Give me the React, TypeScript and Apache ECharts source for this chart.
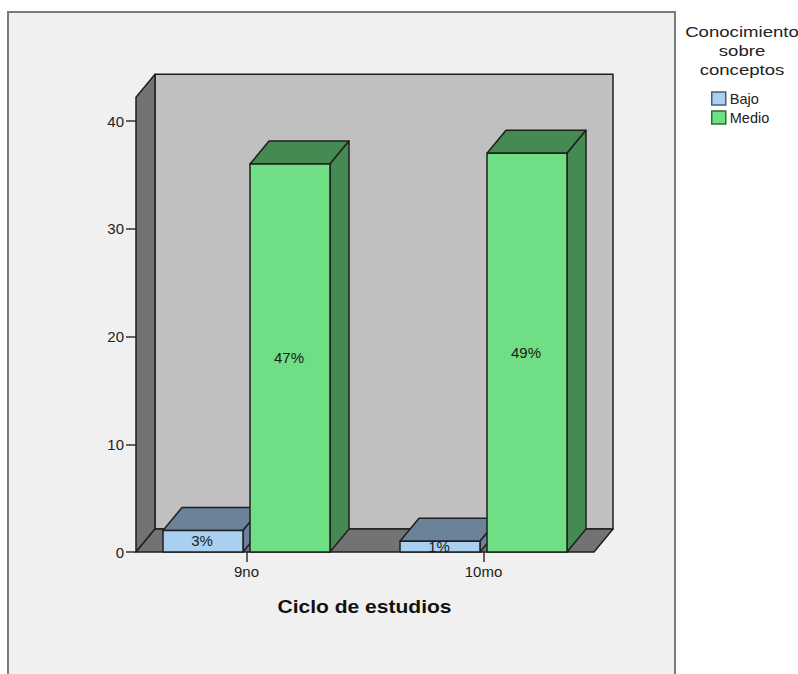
import React, { useEffect, useRef } from "react";
import * as echarts from "echarts";

const categories = ["9no", "10mo"];
const bajoValues = [2, 1];
const medioValues = [36, 37];
const bajoPercents = ["3%", "1%"];
const medioPercents = ["47%", "49%"];
const yTicks = [0, 10, 20, 30, 40];
const legendTitle = "Conocimiento\nsobre\nconceptos";
const xTitle = "Ciclo de estudios";

const FONT = '"Liberation Sans", Arial, sans-serif';
const INK = "#1f1f1f";
const DEPTH_X = 19;
const DEPTH_Y = 23;
const WALL_TOP = 42.2;
const FLOOR_INSET = 8;
const BAR_SHARE = 80 / 237;
const BAR_GAP_SHARE = 7 / 237;

const bajoColors = { front: "#a9d0f0", shade: "#6b8298" };
const medioColors = { front: "#70de84", shade: "#458a52" };

// Back wall, left wall and floor of the 3D box.
function renderWalls(params: any, api: any) {
  if (params.dataIndex !== 0) return null;
  const band = api.size([1, 0])[0];
  const y0 = api.coord([0, 0])[1];
  const yTop = api.coord([0, WALL_TOP])[1];
  const left = api.coord([0, 0])[0] - band / 2 + FLOOR_INSET;
  const right = api.coord([1, 0])[0] + band / 2 - FLOOR_INSET;
  const line = { stroke: INK, lineWidth: 1.5, lineJoin: "round" };
  return {
    type: "group",
    children: [
      {
        type: "polygon",
        shape: { points: [[left + DEPTH_X, yTop - DEPTH_Y], [right + DEPTH_X, yTop - DEPTH_Y], [right + DEPTH_X, y0 - DEPTH_Y], [left + DEPTH_X, y0 - DEPTH_Y]] },
        style: { fill: "#c0c0c0", ...line },
      },
      {
        type: "polygon",
        shape: { points: [[left, y0], [left, yTop], [left + DEPTH_X, yTop - DEPTH_Y], [left + DEPTH_X, y0 - DEPTH_Y]] },
        style: { fill: "#737373", ...line },
      },
      {
        type: "polygon",
        shape: { points: [[left, y0], [left + DEPTH_X, y0 - DEPTH_Y], [right + DEPTH_X, y0 - DEPTH_Y], [right, y0]] },
        style: { fill: "#737373", ...line },
      },
    ],
  };
}

// One cuboid per category: front face, top and side shading, centred label.
function cuboid(colors: { front: string; shade: string }, side: number, labels: string[]) {
  return (params: any, api: any) => {
    const band = api.size([1, 0])[0];
    const w = band * BAR_SHARE;
    const gap = band * BAR_GAP_SHARE;
    const cx = api.coord([api.value(0), 0])[0];
    const y0 = api.coord([0, 0])[1];
    const y1 = api.coord([0, api.value(1)])[1];
    const x0 = side < 0 ? cx - gap / 2 - w : cx + gap / 2;
    const x1 = x0 + w;
    const line = { stroke: INK, lineWidth: 1.5, lineJoin: "round" };
    return {
      type: "group",
      children: [
        {
          type: "polygon",
          shape: { points: [[x0, y1], [x0 + DEPTH_X, y1 - DEPTH_Y], [x1 + DEPTH_X, y1 - DEPTH_Y], [x1, y1]] },
          style: { fill: colors.shade, ...line },
        },
        {
          type: "polygon",
          shape: { points: [[x1, y0], [x1, y1], [x1 + DEPTH_X, y1 - DEPTH_Y], [x1 + DEPTH_X, y0 - DEPTH_Y]] },
          style: { fill: colors.shade, ...line },
        },
        {
          type: "rect",
          shape: { x: x0, y: y1, width: w, height: y0 - y1 },
          style: { fill: colors.front, ...line },
        },
        {
          type: "text",
          style: {
            x: (x0 + x1) / 2 - 1,
            y: (y0 + y1) / 2 - 0.5,
            text: labels[params.dataIndex],
            align: "center",
            verticalAlign: "middle",
            fill: "#1a1a1a",
            font: `15px ${FONT}`,
          },
        },
      ],
    };
  };
}

export default function App() {
  const ref = useRef<HTMLDivElement>(null);

  useEffect(() => {
    const chart = echarts.init(ref.current!, null, { renderer: "svg" });
    chart.setOption({
      animation: false,
      backgroundColor: "#ffffff",
      textStyle: { fontFamily: FONT },
      grid: { left: 128, top: 121, width: 474, height: 431 },
      graphic: [
        {
          type: "rect",
          z: -10,
          shape: { x: 8, y: 12, width: 667, height: 680 },
          style: { fill: "#f0f0f0", stroke: "#7b7b7b", lineWidth: 2 },
        },
        {
          type: "text",
          x: 742,
          y: 22.5,
          scaleX: 1.24,
          style: {
            text: legendTitle,
            align: "center",
            verticalAlign: "top",
            fill: "#222222",
            font: `15px ${FONT}`,
            lineHeight: 19,
          },
        },
        {
          type: "text",
          x: 364.5,
          y: 606,
          scaleX: 1.107,
          style: {
            text: xTitle,
            align: "center",
            verticalAlign: "middle",
            fill: "#111111",
            font: `bold 19px ${FONT}`,
          },
        },
      ],
      legend: {
        orient: "vertical",
        left: 706,
        top: 86,
        itemWidth: 14,
        itemHeight: 13,
        itemGap: 4,
        itemStyle: { borderWidth: 1.5 },
        textStyle: { color: "#222222", fontSize: 14.5, padding: [0, 0, 0, -1], fontFamily: FONT },
        data: [
          { name: "Bajo", icon: "rect", itemStyle: { color: bajoColors.front, borderColor: "#45607a", borderWidth: 1.5 } },
          { name: "Medio", icon: "rect", itemStyle: { color: medioColors.front, borderColor: "#2f6b3a", borderWidth: 1.5 } },
        ],
      },
      xAxis: {
        type: "category",
        data: categories,
        axisLine: { show: false },
        axisTick: { show: true, alignWithLabel: true, length: 10, lineStyle: { color: "#333333", width: 1.5 } },
        axisLabel: { color: "#222222", fontSize: 15, margin: 12, fontFamily: FONT },
      },
      yAxis: {
        type: "value",
        min: 0,
        max: 40,
        interval: 10,
        position: "left",
        offset: -FLOOR_INSET,
        splitLine: { show: false },
        axisLine: { show: false },
        axisTick: { show: true, length: 10, customValues: yTicks, lineStyle: { color: "#333333", width: 1.5 } },
        axisLabel: { color: "#222222", fontSize: 15, margin: 12, customValues: yTicks, fontFamily: FONT },
      },
      series: [
        {
          type: "custom",
          name: "walls",
          z: 1,
          renderItem: renderWalls,
          data: [[0, 0]],
          encode: { x: 0, y: 1 },
          clip: false,
          silent: true,
        },
        {
          type: "custom",
          name: "Bajo",
          z: 2,
          renderItem: cuboid(bajoColors, -1, bajoPercents),
          data: bajoValues.map((v, i) => [i, v]),
          encode: { x: 0, y: 1 },
          clip: false,
        },
        {
          type: "custom",
          name: "Medio",
          z: 3,
          renderItem: cuboid(medioColors, 1, medioPercents),
          data: medioValues.map((v, i) => [i, v]),
          encode: { x: 0, y: 1 },
          clip: false,
        },
      ],
    });
    return () => chart.dispose();
  }, []);

  return <div ref={ref} style={{ position: "fixed", left: 0, top: 0, width: 798, height: 674 }} />;
}
